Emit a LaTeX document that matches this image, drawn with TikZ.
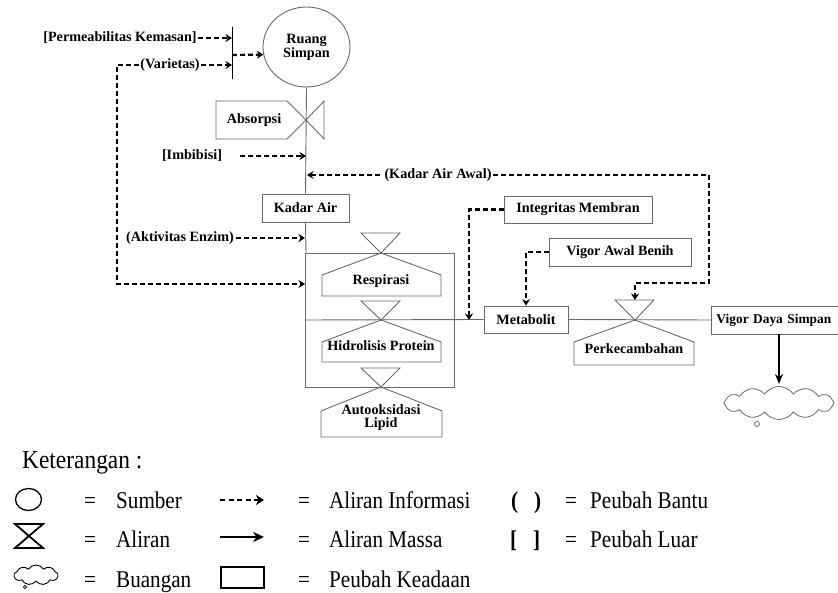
\documentclass[tikz,border=0pt]{standalone}
\usepackage{fontspec}
\setmainfont{Liberation Serif}
\usetikzlibrary{arrows.meta,shapes.geometric,shapes.symbols}
\definecolor{lg}{RGB}{105,105,105}
\newcommand\lblfont{\fontsize{14.2}{16}\selectfont\bfseries}
\newcommand\legtext[1]{\scalebox{0.88}[1]{\fontsize{24}{26}\selectfont #1}}
\begin{document}
\begin{tikzpicture}[x=1pt,y=-1pt,
  box/.style={draw=lg,line width=0.9pt,rectangle,inner sep=0pt,font=\lblfont},
  lbl/.style={font=\lblfont,inner sep=1.5pt},
  info/.style={line width=2.2pt,dash pattern=on 5pt off 3pt,-{Stealth[length=6.5pt,width=8pt,inset=2.2pt]}},
  mass/.style={line width=1.8pt,-{Stealth[length=10pt,width=8pt]}},
  gline/.style={draw=lg,line width=0.9pt},
  leg/.style={anchor=base west,inner sep=0pt}]
\path[use as bounding box] (0,0) rectangle (838,593);
\clip (0,0) rectangle (838,593);

% ---- source and top inputs
\node[ellipse,draw=lg,line width=0.9pt,minimum width=87pt,minimum height=80pt,inner sep=0pt,align=center,font=\lblfont] (ruang) at (306.5,47) {Ruang\\[-2pt]Simpan};
\coordinate (bartop) at (232,27);
\coordinate (barbot) at (232,79);
\draw[line width=1pt] (bartop) -- (barbot);
\coordinate (barP) at (232,38);
\coordinate (barV) at (232,65);
\coordinate (barO) at (232,55);
\node[lbl] (perm) at (120,38) {[Permeabilitas Kemasan]};
\node[lbl] (var) at (170,65) {(Varietas)};
\draw[info] (perm.east) -- (barP);
\draw[info] (var.east) -- (barV);
\draw[info] (barO) -- (ruang.190);

% ---- main vertical line
\node[box,minimum width=87pt,minimum height=28pt] (kadar) at (305.5,208) {Kadar Air};
\draw[gline] (ruang.south) -- (kadar.north);

% Absorpsi valve
\draw[gline] (216,101) -- (287,101) -- (306,120) -- (287,139) -- (216,139) -- cycle;
\draw[gline] (306,120) -- (324,101) -- (324,139) -- cycle;
\node[lbl] (abs) at (254,120) {Absorpsi};

\coordinate (mImb) at (306,156);
\coordinate (mKaa) at (307,175);
\node[lbl] (imb) at (192,156) {[Imbibisi]};
\draw[info] ([xshift=16pt]imb.east) -- (mImb);
\node[lbl] (kaa) at (438,175) {(Kadar Air Awal)};
\draw[info] ([xshift=-3pt]kaa.west) -- (mKaa);

% ---- process box
\draw[gline] (305,253) rectangle (454,387);
\coordinate (boxtop) at (306,253);
\draw[gline] (kadar.south) -- (boxtop);
\node[lbl] (akt) at (180,238) {(Aktivitas Enzim)};
\coordinate (mAkt) at (305,238);
\draw[info] (akt.east) -- (mAkt);
\coordinate (cVar) at (117,284);
\coordinate (mVar) at (305,284);
\draw[info] (var.west) -| (cVar) -- (mVar);

% Respirasi
\draw[gline] (361,233) -- (400,233) -- (381,253) -- cycle;
\draw[gline] (381,253) -- (441,275) -- (441,296) -- (322,296) -- (322,275) -- cycle;
\node[lbl] (resp) at (381,281) {Respirasi};
% Hidrolisis
\draw[gline] (361,301) -- (400,301) -- (381,320) -- cycle;
\draw[gline] (381,320) -- (441,342) -- (441,362) -- (322,362) -- (322,342) -- cycle;
\node[lbl] (hidr) at (381,346) {Hidrolisis Protein};
% Autooksidasi
\draw[gline] (361,368) -- (400,368) -- (381,387) -- cycle;
\draw[gline] (381,387) -- (442,411) -- (442,437) -- (321,437) -- (321,411) -- cycle;
\node[lbl,align=center] (auto) at (381,418) {Autooksidasi\\[-3pt]Lipid};

% ---- right part
\node[box,minimum width=84pt,minimum height=27pt] (met) at (526,319.5) {Metabolit};
\coordinate (mid) at (305,320);
\draw[gline] (mid) -- (met.west);
\node[box,minimum width=148pt,minimum height=27pt] (integ) at (578,209.5) {Integritas Membran};
\node[box,minimum width=142pt,minimum height=28pt] (vab) at (620,252) {Vigor Awal Benih};
\coordinate (mInt) at (469,320);
\draw[info] (integ.west) -| (mInt);
\draw[info] (vab.west) -| (met.north);

% Perkecambahan
\draw[gline] (615,300) -- (654,300) -- (635,320) -- cycle;
\draw[gline] (635,320) -- (694,342) -- (694,365) -- (574,365) -- (574,342) -- cycle;
\node[lbl] (perk) at (634,349) {Perkecambahan};
\coordinate (ptop) at (635,300);
\coordinate (cKaa) at (709,283);
\draw[info] (kaa.east) -| (cKaa) -| (ptop);

\node[box,minimum width=140pt,minimum height=28pt,anchor=west,text width=130pt,inner xsep=5pt,align=left,font=\fontsize{13.4}{15}\selectfont\bfseries] (vigor) at (711,320) {Vigor Daya Simpan};
\draw[gline] (met.east) -- (vigor.west);

\node[cloud,draw=lg,line width=0.8pt,cloud puffs=12,cloud puff arc=110,aspect=3.4,minimum width=110pt,minimum height=33pt,inner sep=0pt] (dump) at (779,403) {};
\draw[lg,line width=0.8pt] (757,424) circle (2.5pt);
\coordinate (dtop) at (779,384);
\draw[mass] (vigor.south -| dtop) -- (dtop);

% ---- legend
\node[leg] (ket) at (22,468) {\scalebox{0.9}[1]{\fontsize{26}{28}\selectfont Keterangan :}};

\node[ellipse,draw,line width=1.3pt,minimum width=26pt,minimum height=22pt,inner sep=0pt] (lsrc) at (28.5,499.5) {};
\draw[line width=1.8pt] (15,524) -- (43,524) -- (15,548) -- (43,548) -- cycle;
\node[cloud,draw,line width=0.9pt,cloud puffs=9,cloud puff arc=115,aspect=2.2,minimum width=44pt,minimum height=20pt,inner sep=0pt] (lcloud) at (36,575) {};
\draw[line width=0.8pt] (25,587) circle (1.6pt);

\node[leg] (e1) at (84,508) {\legtext{=}};
\node[leg] (e2) at (84,547) {\legtext{=}};
\node[leg] (e3) at (84,587) {\legtext{=}};
\node[leg] (t1) at (116,508) {\legtext{Sumber}};
\node[leg] (t2) at (116,547) {\legtext{Aliran}};
\node[leg] (t3) at (116,587) {\legtext{Buangan}};

\coordinate (la1) at (220,500);
\coordinate (lb1) at (264,500);
\draw[info,line width=2.5pt,dash pattern=on 5pt off 3.5pt,-{Stealth[length=8pt,width=10pt,inset=2.5pt]}] (la1) -- (lb1);
\coordinate (la2) at (220,537);
\coordinate (lb2) at (264,537);
\draw[mass,line width=2.2pt,-{Stealth[length=11pt,width=10pt]}] (la2) -- (lb2);
\draw[line width=2.4pt] (221,567) rectangle (264,588);

\node[leg] (e4) at (298,508) {\legtext{=}};
\node[leg] (e5) at (298,547) {\legtext{=}};
\node[leg] (e6) at (298,587) {\legtext{=}};
\node[leg] (t4) at (329,508) {\legtext{Aliran Informasi}};
\node[leg] (t5) at (329,547) {\legtext{Aliran Massa}};
\node[leg] (t6) at (329,587) {\legtext{Peubah Keadaan}};

\node[leg] (p1) at (511,508) {\legtext{\bfseries (\hspace{18pt})}};
\node[leg] (p2) at (510,547) {\legtext{\bfseries [\hspace{18pt}]}};
\node[leg] (e7) at (565,508) {\legtext{=}};
\node[leg] (e8) at (565,547) {\legtext{=}};
\node[leg] (t7) at (590,508) {\legtext{Peubah Bantu}};
\node[leg] (t8) at (590,547) {\legtext{Peubah Luar}};
\end{tikzpicture}
\end{document}
